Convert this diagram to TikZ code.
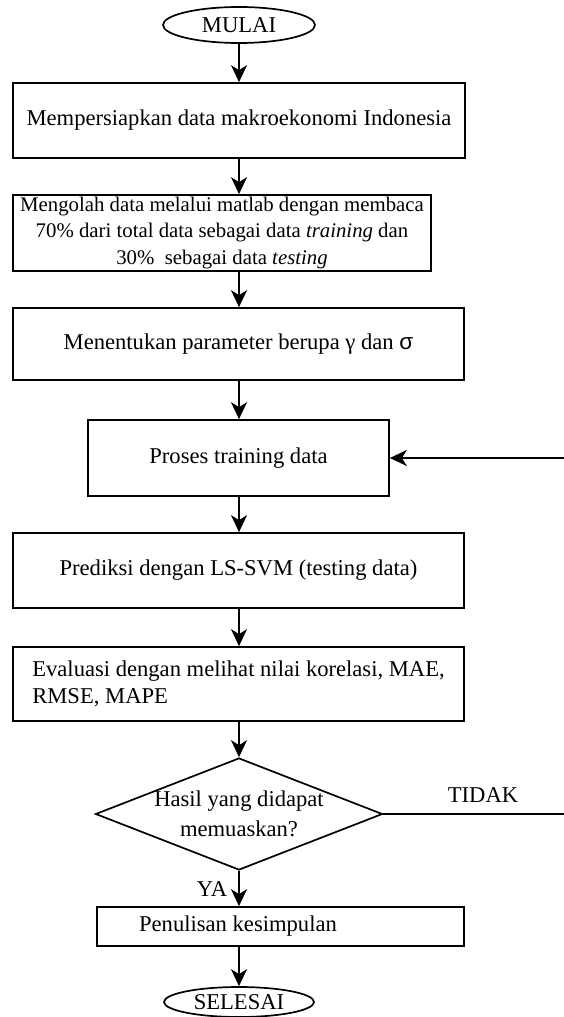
\documentclass[tikz,border=0pt]{standalone}
\usepackage{fontspec}
\setmainfont{Liberation Serif}
\newfontfamily\sigmafont{Liberation Sans}
\usetikzlibrary{shapes.geometric,arrows.meta}
\begin{document}
\begin{tikzpicture}[x=1pt,y=-1pt,
  every node/.style={font=\fontsize{22.6}{27.5}\selectfont},
  box/.style={draw, line width=1.7pt, rectangle, inner sep=0pt, align=center},
  term/.style={draw, ellipse, line width=1.7pt, inner sep=0pt},
  arr/.style={-{Stealth[length=17pt,width=16pt,inset=5pt]}, line width=1.7pt},
  ln/.style={line width=1.7pt}]
\useasboundingbox (0,0) rectangle (564,1017);
\node[term, minimum width=152pt, minimum height=36pt] (mulai) at (239,25) {MULAI};
\node[box, minimum width=452pt, minimum height=75pt] (b1) at (239,120.5) {Mempersiapkan data makroekonomi Indonesia};
\node[box, minimum width=418pt, minimum height=76pt, font=\fontsize{20.8}{26.5}\selectfont] (b2) at (222,233) {Mengolah data melalui matlab dengan membaca\\70\% dari total data sebagai data \textit{training} dan\\30\%\ \ sebagai data \textit{testing}};
\node[box, minimum width=451pt, minimum height=72pt] (b3) at (238.5,344) {Menentukan parameter berupa γ dan {\sigmafont σ}};
\node[box, minimum width=301pt, minimum height=76pt] (b4) at (238.5,458) {Proses training data};
\node[box, minimum width=451pt, minimum height=75pt] (b5) at (238.5,570.5) {Prediksi dengan LS-SVM (testing data)};
\node[box, minimum width=451pt, minimum height=74pt, align=left] (b6) at (238.5,684) {Evaluasi dengan melihat nilai korelasi, MAE,\\RMSE, MAPE};
\node[diamond, draw, line width=1.7pt, minimum width=287pt, minimum height=112pt, inner sep=0pt] (d) at (239,814) {};
\node[align=center] (dt) at (d.center) {Hasil yang didapat\\[2pt]memuaskan?};
\node[box, minimum width=367pt, minimum height=39pt] (b7) at (280.5,926.5) {};
\node (b7t) at (238,926.5) {Penulisan kesimpulan};
\node[term, minimum width=150pt, minimum height=30pt] (selesai) at (239,1002) {SELESAI};
\node (tidak) at (483,795) {TIDAK};
\node (ya) at (212,889) {YA};
\coordinate (r1) at (564,458);
\coordinate (r2) at (564,814);
\draw[arr] (mulai.south) -- (mulai.south |- b1.north);
\draw[arr] (mulai.south |- b1.south) -- (mulai.south |- b2.north);
\draw[arr] (mulai.south |- b2.south) -- (mulai.south |- b3.north);
\draw[arr] (mulai.south |- b3.south) -- (mulai.south |- b4.north);
\draw[arr] (mulai.south |- b4.south) -- (mulai.south |- b5.north);
\draw[arr] (mulai.south |- b5.south) -- (mulai.south |- b6.north);
\draw[arr] (mulai.south |- b6.south) -- (d.north);
\draw[arr] (d.south) -- (d.south |- b7.north);
\draw[arr] (d.south |- b7.south) -- (selesai.north);
\draw[arr] (r1) -- (b4.east);
\draw[ln] (d.east) -- (r2);
\end{tikzpicture}
\end{document}
